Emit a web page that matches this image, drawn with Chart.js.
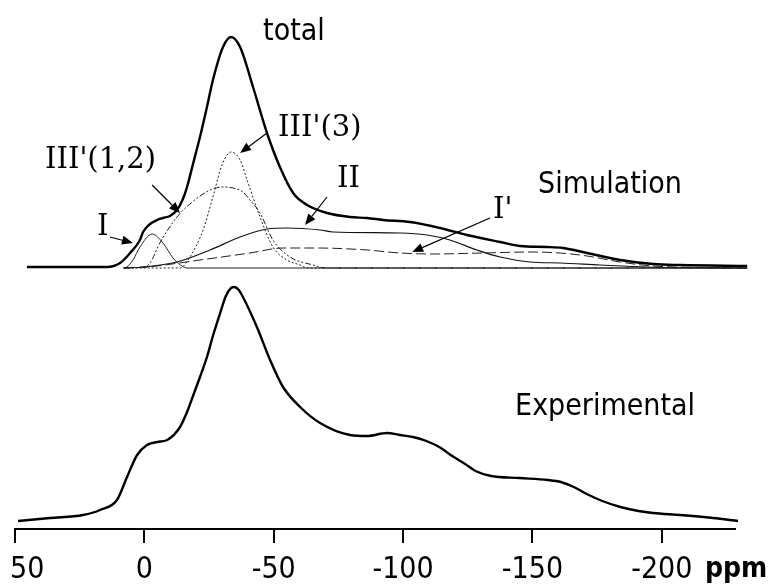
<!DOCTYPE html>
<html>
<head>
<meta charset="utf-8">
<script src="https://cdn.jsdelivr.net/npm/chart.js@4.4.1/dist/chart.umd.min.js"></script>
<style>
  html, body { margin: 0; padding: 0; background: #fff; }
  #wrap { width: 776px; height: 584px; }
</style>
</head>
<body>
<div id="wrap"><canvas id="nmrChart" width="776" height="584"></canvas></div>
<script>
// x ticks (ppm) and axis range
const ppmTicks = [50, 0, -50, -100, -150, -200];
const ppmMin = -228.3;
const ppmMax = 50;

// experimental spectrum (ppm, intensity a.u.)
const expPpm = [48.8, 36.5, 23.7, 17.1, 10.6, 6.7, 2.8, -1.0, -4.9, -8.8, -13.8, -16.5, -18.8, -21.5, -24.2, -26.5, -29.2, -31.5, -33.5, -34.8, -36.5, -38.1, -43.5, -48.6, -53.6, -60.2, -67.9, -79.5, -86.1, -93.8, -98.8, -103.8, -109, -114, -119, -124, -128, -134, -145, -156, -161, -166, -171, -177, -184, -191, -196.6, -207.1, -219.8, -229.5];
const expVal = [8, 11, 14, 19, 29, 52, 74, 84, 87, 89, 102, 117, 133, 152, 172, 193, 215, 233, 241, 242, 239, 232, 202, 169, 142, 122, 106, 94, 93, 96, 94, 92, 88, 82, 73, 65, 58, 53, 51, 49, 47, 42, 35, 28, 22, 18, 16, 14, 11, 8];

// simulated total
const totalPpm = [45.4, 14.4, 9.4, 5.5, 1.7, 0.5, -2.2, -4.9, -7.2, -9.9, -12.6, -14.9, -16.5, -18.8, -21.5, -24.2, -26.5, -30.4, -33.5, -37, -42, -47.4, -52.4, -57.5, -62.9, -70.6, -79.5, -86.1, -92.3, -102.7, -114.3, -124.7, -137.5, -145.2, -155.6, -161.8, -171.1, -183.9, -196.6, -207.1, -233];
const totalVal = [262, 262, 266, 276, 289, 297, 305, 309, 311, 313, 319, 330, 342, 365, 392, 422, 449, 482, 492, 482, 442, 396, 362, 336, 324, 316, 312, 311, 309, 307, 301, 294, 287, 283, 282, 281, 276, 269, 265, 264, 263];

// simulated components
const siteIPpm = [8, 6.7, 4.4, 1.7, -3, -7.2, -11.1, -14, -16.5, -233];
const siteIVal = [261, 262, 269, 282, 295, 286, 271, 264, 261, 261];

const site3a12Ppm = [8, 0.5, -2.2, -6, -12.6, -19, -25.4, -30.4, -34.3, -38.1, -40.8, -44.7, -49.7, -56.3, -65.2, -70, -233];
const site3a12Val = [261, 262, 266, 286, 312, 328, 339, 342, 341, 337, 329, 316, 289, 272, 264, 261, 261];

const site3a3Ppm = [8, -13.8, -17.6, -22.7, -26.5, -30, -33.5, -37, -39.7, -44.7, -49.7, -55.1, -60.2, -63, -233];
const site3a3Val = [261, 261, 272, 299, 332, 364, 377, 369, 349, 312, 282, 269, 264, 261, 261];

const siteIIPpm = [8, 0.5, -12.6, -25.4, -37, -47.4, -55.1, -67.9, -72.9, -98.8, -109.3, -118.1, -128.6, -137.5, -149.1, -160.7, -176.1, -194.3, -233];
const siteIIVal = [261, 262, 267, 279, 292, 300, 301, 299, 297, 296, 294, 289, 279, 272, 267, 266, 264, 262, 261];

const siteIpPpm = [8, -1, -21.5, -40.8, -53.6, -66.7, -86.1, -98.8, -111.6, -130.9, -149.1, -160.7, -171.1, -183.9, -196.6, -233];
const siteIpVal = [261, 262, 269, 276, 281, 281, 279, 276, 275, 276, 277, 276, 273, 267, 263, 261];

// labels: text, ppm, intensity (left/baseline anchor)
const sansLabels = [
  { text: 'total', ppm: -45.9, val: 489 },
  { text: 'Simulation', ppm: -152.2, val: 336 },
  { text: 'Experimental', ppm: -143.3, val: 114 }
];
const siteLabels = [
  { text: 'I', ppm: 18.3, val: 294 },
  { text: "III'(1,2)", ppm: 38.4, val: 361 },
  { text: "III'(3)", ppm: -51.7, val: 393 },
  { text: 'II', ppm: -74.5, val: 342 },
  { text: "I'", ppm: -134.8, val: 311 }
];
// arrows: from -> to (ppm, intensity)
const siteArrows = [
  { from: [13.3, 292], to: [4.4, 286] },
  { from: [-3, 344], to: [-13.8, 316] },
  { from: [-47.4, 396], to: [-37, 376] },
  { from: [-70.6, 332], to: [-62.1, 304] },
  { from: [-133.6, 311], to: [-103.5, 277] }
];

const SANS = "'DejaVu Sans Condensed', 'DejaVu Sans', sans-serif";
const SERIF = "'DejaVu Serif', 'Liberation Serif', serif";
const TICK_LEN = 14;
const TICK_PAD = 9;
const TICK_FONT = 30;

function toPoints(xs, ys) {
  return xs.map((x, i) => ({ x, y: ys[i] }));
}

function lineSet(xs, ys, width, dash, color) {
  return {
    data: toPoints(xs, ys),
    borderColor: color || '#000',
    borderWidth: width,
    borderDash: dash || [],
    pointRadius: 0,
    fill: false,
    cubicInterpolationMode: 'monotone',
    clip: false
  };
}

const annotationPlugin = {
  id: 'annotations',
  afterDraw(chart) {
    const { ctx, scales } = chart;
    const xs = scales.x, ys = scales.y;
    ctx.save();
    ctx.fillStyle = '#000';
    ctx.textAlign = 'left';
    ctx.textBaseline = 'alphabetic';
    ctx.font = `30px ${SANS}`;
    sansLabels.forEach(l => ctx.fillText(l.text, xs.getPixelForValue(l.ppm), ys.getPixelForValue(l.val)));
    ctx.font = `29px ${SERIF}`;
    siteLabels.forEach(l => ctx.fillText(l.text, xs.getPixelForValue(l.ppm), ys.getPixelForValue(l.val)));

    ctx.strokeStyle = '#000';
    ctx.lineWidth = 1.2;
    siteArrows.forEach(a => {
      const x1 = xs.getPixelForValue(a.from[0]), y1 = ys.getPixelForValue(a.from[1]);
      const x2 = xs.getPixelForValue(a.to[0]), y2 = ys.getPixelForValue(a.to[1]);
      const ang = Math.atan2(y2 - y1, x2 - x1);
      const len = 11, half = 4.5;
      const bx = x2 - len * Math.cos(ang), by = y2 - len * Math.sin(ang);
      ctx.beginPath();
      ctx.moveTo(x1, y1);
      ctx.lineTo(bx, by);
      ctx.stroke();
      ctx.beginPath();
      ctx.moveTo(x2, y2);
      ctx.lineTo(bx + half * Math.sin(ang), by - half * Math.cos(ang));
      ctx.lineTo(bx - half * Math.sin(ang), by + half * Math.cos(ang));
      ctx.closePath();
      ctx.fill();
    });

    // first tick label sits to the right of its tick, as in the original
    const labelY = xs.top + TICK_LEN + TICK_PAD + TICK_FONT * 0.6;
    ctx.font = `${TICK_FONT}px ${SANS}`;
    ctx.textBaseline = 'middle';
    ctx.fillText(String(ppmTicks[0]), xs.getPixelForValue(ppmTicks[0]) - 5, labelY);

    // unit label at the end of the axis
    ctx.font = `bold 28px ${SANS}`;
    ctx.fillText('ppm', xs.right - 30, labelY);
    ctx.restore();
  }
};

function setupChart() {
  const canvas = document.getElementById('nmrChart');
  return new Chart(canvas.getContext('2d'), {
    type: 'line',
    data: {
      datasets: [
        lineSet(siteIPpm, siteIVal, 1, [], '#222'),
        lineSet(site3a12Ppm, site3a12Val, 1, [6, 2, 2, 2, 2, 2], '#222'),
        lineSet(site3a3Ppm, site3a3Val, 1, [2, 2], '#222'),
        lineSet(siteIIPpm, siteIIVal, 1.2, [], '#111'),
        lineSet(siteIpPpm, siteIpVal, 1, [10, 4], '#222'),
        lineSet(totalPpm, totalVal, 2.4, []),
        lineSet(expPpm, expVal, 2.4, [])
      ]
    },
    options: {
      responsive: false,
      animation: false,
      layout: { padding: { top: 10, left: 15, right: 41, bottom: 0 } },
      plugins: { legend: { display: false }, tooltip: { enabled: false } },
      scales: {
        x: {
          type: 'linear',
          reverse: true,
          min: ppmMin,
          max: ppmMax,
          afterBuildTicks: scale => { scale.ticks = ppmTicks.map(v => ({ value: v })); },
          afterFit: scale => { scale.paddingLeft = 0; scale.paddingRight = 0; scale.height = 55; },
          ticks: {
            includeBounds: false,
            autoSkip: false,
            maxRotation: 0,
            padding: TICK_PAD,
            color: '#000',
            font: { family: SANS, size: TICK_FONT },
            callback: v => (v === ppmTicks[0] ? '' : String(v))
          },
          grid: { display: true, drawOnChartArea: false, drawTicks: true, tickLength: TICK_LEN, color: '#000', lineWidth: 2 },
          border: { display: true, color: '#000', width: 2 }
        },
        y: { display: false, min: 0, max: 519 }
      }
    },
    plugins: [annotationPlugin]
  });
}

setupChart();
</script>
</body>
</html>
